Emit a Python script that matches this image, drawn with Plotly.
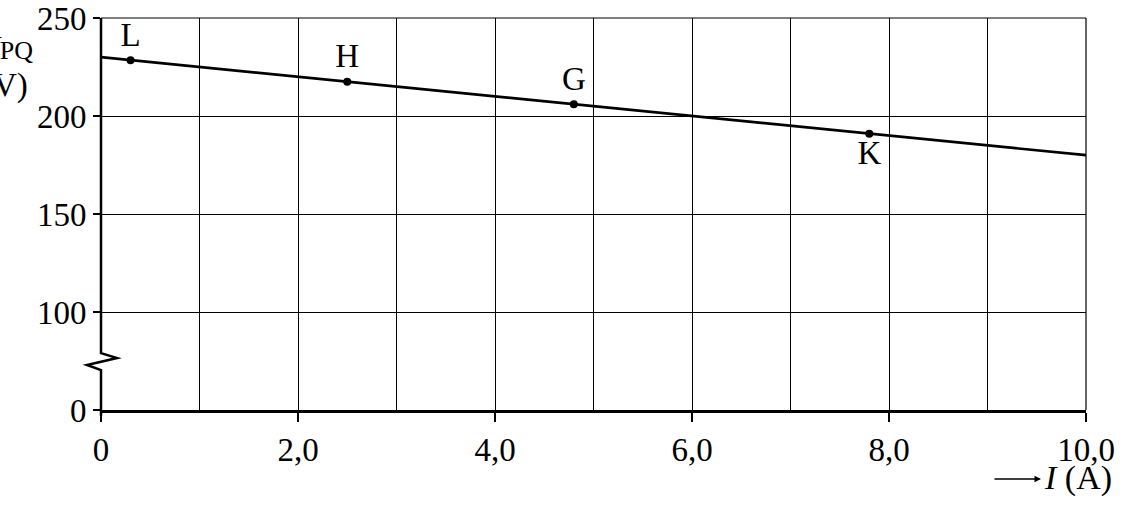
import plotly.graph_objects as go

# line U_PQ versus I
line_x = [0, 10]
line_y = [230, 180]

# marked points
point_names = ["L", "H", "G", "K"]
point_x = [0.3, 2.5, 4.8, 7.8]
point_y = [228.5, 217.5, 206, 191]
point_pos = ["top center", "top center", "top center", "bottom center"]

# axis ticks (0 sits at the break position 50)
x_ticks = [0, 2, 4, 6, 8, 10]
x_labels = ["0", "2,0", "4,0", "6,0", "8,0", "10,0"]
y_ticks = [50, 100, 150, 200, 250]
y_labels = ["0", "100", "150", "200", "250"]

FONT = "Liberation Serif"
FS = 33
L, R, T, B = 101, 60, 18, 110
W, H = 1146, 520
pw, ph = W - L - R, H - T - B


def px(x):
    return (x - L) / pw


def py(y):
    return (H - B - y) / ph


def vy(v):
    # y value -> paper fraction
    return (v - 50) / 200


fig = go.Figure()
fig.add_trace(go.Scatter(x=line_x, y=line_y, mode="lines",
                         line=dict(color="black", width=2.7), hoverinfo="skip"))
fig.add_trace(go.Scatter(x=point_x, y=point_y, mode="markers+text",
                         text=point_names, textposition=point_pos,
                         marker=dict(color="black", size=8),
                         textfont=dict(family=FONT, size=FS, color="black")))

# frame lines at top and right
fig.add_shape(type="line", xref="paper", yref="paper", x0=0, x1=1, y0=1, y1=1,
              line=dict(color="black", width=1.2))
fig.add_shape(type="line", xref="paper", yref="paper", x0=1, x1=1, y0=0, y1=1,
              line=dict(color="black", width=1.2))

# y axis line with break zigzag
zz = [(px(101), vy(250)), (px(101), vy(79)), (px(117), vy(76.5)),
      (px(87), vy(73)), (px(101), vy(70.4)), (px(101), vy(47))]
path = "M " + " L ".join(f"{a:.5f} {b:.5f}" for a, b in zz)
fig.add_shape(type="path", xref="paper", yref="paper", path=path,
              line=dict(color="black", width=2.5))

# y axis title (mostly cut off at the left edge)
fig.add_annotation(xref="paper", yref="paper", x=px(35), y=py(48), xanchor="right",
                   yanchor="middle", showarrow=False,
                   text="<i>U</i><span style='font-size:26px'>PQ</span>",
                   font=dict(family=FONT, size=FS, color="black"))
fig.add_annotation(xref="paper", yref="paper", x=px(30), y=py(86), xanchor="right",
                   yanchor="middle", showarrow=False, text="(V)",
                   font=dict(family=FONT, size=FS, color="black"))

# x axis title with arrow
fig.add_annotation(xref="paper", yref="paper", x=px(1041), y=py(479), ax=-48, ay=0,
                   showarrow=True, arrowhead=2, arrowsize=1, arrowwidth=1.3,
                   arrowcolor="black", text="")
fig.add_annotation(xref="paper", yref="paper", x=px(1042), y=py(478), xanchor="left",
                   yanchor="middle", showarrow=False, text="<i>I</i> (A)",
                   font=dict(family=FONT, size=34, color="black"))

fig.update_xaxes(range=[0, 10], tickvals=x_ticks, ticktext=x_labels,
                 ticks="outside", ticklen=9, tickwidth=2, tickcolor="black",
                 showline=True, linecolor="black", linewidth=2.5,
                 showgrid=True, gridcolor="black", gridwidth=1.2,
                 minor=dict(dtick=1, showgrid=True, gridcolor="black", gridwidth=1.2),
                 zeroline=False, ticklabeloverflow="allow",
                 tickfont=dict(family=FONT, size=FS, color="black"))
fig.update_yaxes(range=[50, 250], tickvals=y_ticks, ticktext=y_labels,
                 ticks="outside", ticklen=7, tickwidth=2, tickcolor="black",
                 showline=False, showgrid=True, gridcolor="black", gridwidth=1.2,
                 zeroline=False, ticklabeloverflow="allow",
                 tickfont=dict(family=FONT, size=FS, color="black"))

fig.update_layout(width=W, height=H,
                  margin=dict(l=L, r=R, t=T, b=B, autoexpand=False),
                  plot_bgcolor="white", paper_bgcolor="white", showlegend=False,
                  font=dict(family=FONT, color="black"))

# drop the default page margin so the figure sits at the window corner
fig.write_html("out.html", config={"displayModeBar": False},
               post_script="document.body.style.margin='0';")
